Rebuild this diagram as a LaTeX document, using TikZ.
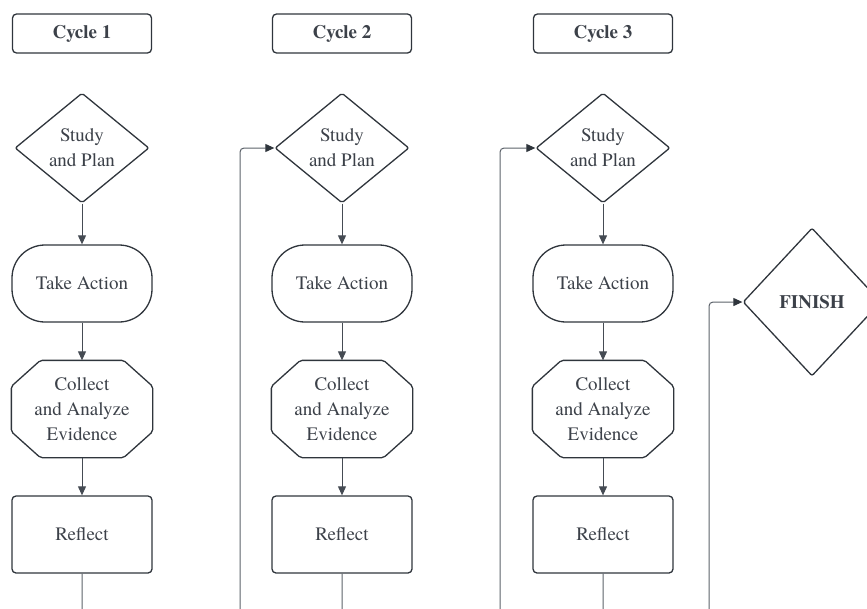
\documentclass[tikz,border=0pt]{standalone}
\usepackage{fontspec}
\setmainfont{texgyretermes}[Extension=.otf, UprightFont=*-regular, BoldFont=*-bold, ItalicFont=*-italic, BoldItalicFont=*-bolditalic]
\usetikzlibrary{shapes.geometric,arrows.meta}
\definecolor{ink}{HTML}{2F353C}
\definecolor{txt}{HTML}{3C4149}
\definecolor{wire}{HTML}{454B53}
\definecolor{loopc}{HTML}{5C626A}
\begin{document}
\begin{tikzpicture}[x=1pt,y=-1pt,
  base/.style={draw=ink, line width=1.3pt, text=txt, align=center, inner sep=0pt,
    font=\fontsize{19}{25}\selectfont},
  cyclebox/.style={base, rectangle, rounded corners=4pt, minimum width=139pt,
    minimum height=39pt, font=\fontsize{19}{23}\selectfont\bfseries},
  studybox/.style={base, diamond, minimum width=134pt, minimum height=110pt,
    rounded corners=2pt},
  actionbox/.style={base, rectangle, rounded corners=33pt, minimum width=140pt,
    minimum height=77pt},
  evbox/.style={base, draw=none, rectangle, minimum width=140pt, minimum height=96pt},
  octo/.style={draw=ink, line width=1.3pt, line join=round, rounded corners=2pt},
  reflbox/.style={base, rectangle, rounded corners=4pt, minimum width=140pt,
    minimum height=77pt},
  finbox/.style={base, diamond, minimum width=138pt, minimum height=148pt,
    rounded corners=2pt, font=\fontsize{19}{23}\selectfont\bfseries},
  flow/.style={draw=wire, line width=1pt, -{Triangle[length=9pt,width=8pt]}},
  back/.style={draw=loopc, line width=1pt, rounded corners=4pt,
    -{Triangle[length=9pt,width=8pt,color=ink]}}
]
\useasboundingbox (0,0) rectangle (867,608);
\foreach \i/\x in {1/82,2/342,3/603}{
  \node[cyclebox] (cyc\i) at (\x,33.5) {Cycle \i};
  \node[studybox] (st\i) at (\x,148) {Study\\and Plan};
  \node[actionbox] (ac\i) at (\x,283.5) {Take Action};
  \node[evbox] (ev\i) at (\x,409) {Collect\\and Analyze\\Evidence};
  \draw[octo] ([xshift=29pt]ev\i.north west) -- ([xshift=-29pt]ev\i.north east)
    -- ([yshift=-26pt]ev\i.north east) -- ([yshift=26pt]ev\i.south east)
    -- ([xshift=-29pt]ev\i.south east) -- ([xshift=29pt]ev\i.south west)
    -- ([yshift=26pt]ev\i.south west) -- ([yshift=-26pt]ev\i.north west) -- cycle;
  \node[reflbox] (rf\i) at (\x,534.5) {Reflect};
  \draw[flow] (st\i.south) -- (ac\i.north);
  \draw[flow] (ac\i.south) -- (ev\i.north);
  \draw[flow] (ev\i.south) -- (rf\i.north);
}
\node[finbox] (fin) at (812,302) {FINISH};
\coordinate (lp1) at (240,650);
\coordinate (lp2) at (500,650);
\coordinate (lp3) at (709,650);
\draw[back] (rf1.south) |- (lp1) |- (st2.west);
\draw[back] (rf2.south) |- (lp2) |- (st3.west);
\draw[back] (rf3.south) |- (lp3) |- (fin.west);
\end{tikzpicture}
\end{document}
